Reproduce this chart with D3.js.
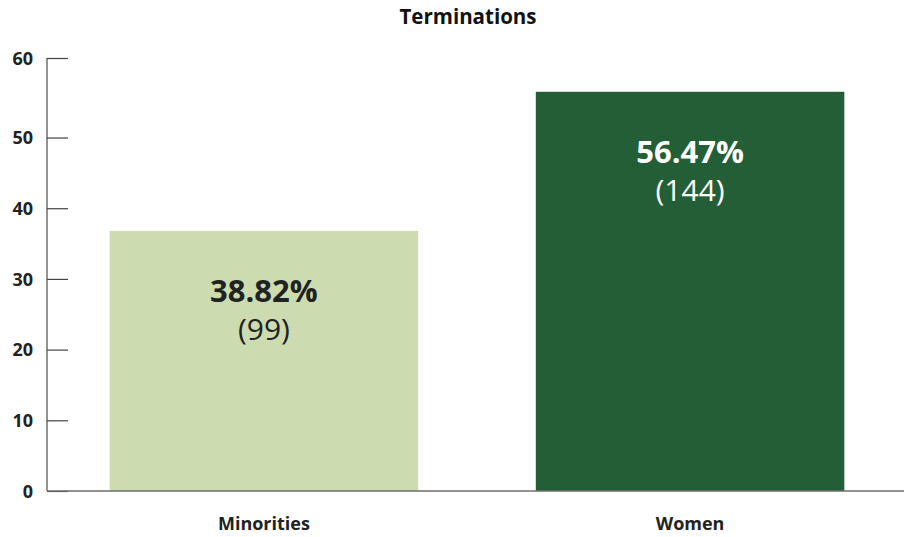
<!DOCTYPE html>
<html>
<head>
<meta charset="utf-8">
<script src="https://cdn.jsdelivr.net/npm/d3@7"></script>
<style>
  body { margin: 0; background: #fff; }
  svg { font-family: 'Open Sans', sans-serif; }
</style>
</head>
<body>
<div id="chart"></div>
<script>
let categories = ['Minorities', 'Women']
let barValues = [36.8, 56.47]
let percentLabels = ['38.82%', '56.47%']
let countLabels = ['(99)', '(144)']
let barColors = ['#cddcb0', '#245e37']
let labelColors = ['#222222', '#ffffff']
let tickLabels = [0, 10, 20, 30, 40, 50, 60]

let margin = { top: 58, left: 47, right: 5, bottom: 46 }
let width = 909 - margin.left - margin.right
let height = 537 - margin.top - margin.bottom

let svg = d3.select('#chart')
  .append('svg')
  .attr('width', width + margin.left + margin.right)
  .attr('height', height + margin.top + margin.bottom)

let g = svg.append('g')
  .attr('transform', `translate(${margin.left},${margin.top})`)

// top of the axis carries the "60" label
let yMax = 61.25
let yScale = d3.scaleLinear().domain([0, yMax]).range([height, 0])

let xScale = d3.scaleBand()
  .domain(categories)
  .range([3, width])
  .paddingInner(0.276)
  .paddingOuter(0.14)

let datapoints = categories.map((c, i) => ({
  name: c,
  value: barValues[i],
  pct: percentLabels[i],
  count: countLabels[i],
  color: barColors[i],
  textColor: labelColors[i]
}))

// title
svg.append('text')
  .attr('x', 468)
  .attr('y', 24)
  .attr('text-anchor', 'middle')
  .attr('font-size', 20.5)
  .attr('font-weight', 700)
  .attr('fill', '#111')
  .text('Terminations')

// bars
g.selectAll('.bar')
  .data(datapoints)
  .enter()
  .append('rect')
  .attr('class', 'bar')
  .attr('x', d => xScale(d.name))
  .attr('width', xScale.bandwidth())
  .attr('y', d => yScale(d.value))
  .attr('height', d => height - yScale(d.value))
  .attr('fill', d => d.color)

// labels inside bars
g.selectAll('.pct-label')
  .data(datapoints)
  .enter()
  .append('text')
  .attr('class', 'pct-label')
  .attr('x', d => xScale(d.name) + xScale.bandwidth() / 2)
  .attr('y', d => yScale(d.value) + 71)
  .attr('text-anchor', 'middle')
  .attr('font-size', 31)
  .attr('font-weight', 700)
  .attr('fill', d => d.textColor)
  .text(d => d.pct)

g.selectAll('.count-label')
  .data(datapoints)
  .enter()
  .append('text')
  .attr('class', 'count-label')
  .attr('x', d => xScale(d.name) + xScale.bandwidth() / 2)
  .attr('y', d => yScale(d.value) + 109)
  .attr('text-anchor', 'middle')
  .attr('font-size', 30)
  .attr('font-weight', 400)
  .attr('fill', d => d.textColor)
  .text(d => d.count)

// y axis
let yTickValues = [0, 10, 20, 30, 40, 50, yMax]
let yAxis = d3.axisRight(yScale)
  .tickValues(yTickValues)
  .tickSize(21)
  .tickFormat((d, i) => tickLabels[i])

let yg = g.append('g').attr('class', 'y-axis').call(yAxis)
yg.select('.domain').attr('stroke', '#6e6e6e').attr('stroke-width', 1.5)
  .attr('d', `M0,0V${height}`)
yg.selectAll('.tick line').attr('stroke', '#444').attr('stroke-width', 1.2)
yg.selectAll('.tick text')
  .attr('x', -14)
  .attr('dy', '0.35em')
  .attr('text-anchor', 'end')
  .attr('font-size', 18)
  .attr('font-weight', 700)
  .attr('fill', '#222')
  .style('font-family', "'Open Sans', sans-serif")

// x axis
let xAxis = d3.axisBottom(xScale).tickSize(0).tickPadding(26)
let xg = g.append('g')
  .attr('class', 'x-axis')
  .attr('transform', `translate(0,${height})`)
  .call(xAxis)
xg.select('.domain').attr('stroke', '#6e6e6e').attr('stroke-width', 1.5)
  .attr('d', `M0,0H${width}`)
xg.selectAll('.tick text')
  .attr('font-size', 18)
  .attr('font-weight', 700)
  .attr('fill', '#222')
  .style('font-family', "'Open Sans', sans-serif")
</script>
</body>
</html>
